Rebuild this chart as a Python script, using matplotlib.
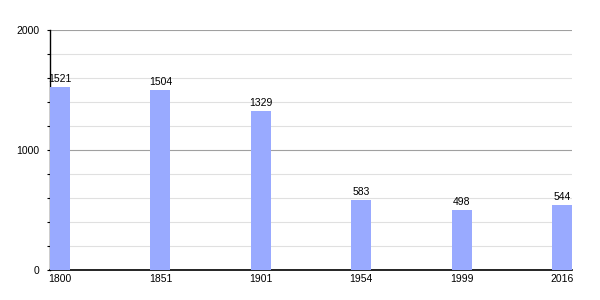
import matplotlib
matplotlib.use("Agg")
import matplotlib.pyplot as plt
from matplotlib.ticker import MultipleLocator

years = ["1800", "1851", "1901", "1954", "1999", "2016"]
population = [1521, 1504, 1329, 583, 498, 544]

plt.rcParams['font.family'] = ['Liberation Sans', 'DejaVu Sans']
fig = plt.figure(figsize=(6, 3), dpi=100)
ax = fig.add_axes([50/600, 0.1, 522/600, 0.8])
x = list(range(len(years)))
ax.bar(x, population, width=0.2, color='#99aaff', zorder=3)
for xi, v in zip(x, population):
    ax.text(xi, v + 25, str(v), ha='center', va='bottom', fontsize=7.5, zorder=4)
ax.set_xlim(-0.1, 5.1)
ax.set_ylim(0, 2000)
ax.yaxis.set_major_locator(MultipleLocator(1000))
ax.yaxis.set_minor_locator(MultipleLocator(200))
ax.grid(axis='y', which='minor', color='#e0e0e0', linewidth=0.8, zorder=0)
ax.grid(axis='y', which='major', color='#a0a0a0', linewidth=0.8, zorder=1)
ax.set_xticks(x)
ax.set_xticklabels(years)
ax.tick_params(axis='x', length=0, labelsize=7.5, pad=3)
ax.tick_params(axis='y', which='major', length=2.5, width=0.8, labelsize=7.5, pad=5)
ax.tick_params(axis='y', which='minor', length=2.5, width=0.8)
for s in ['top', 'right']:
    ax.spines[s].set_visible(False)
ax.spines['left'].set_linewidth(1)
ax.spines['bottom'].set_linewidth(1.2)
fig.savefig('out.png', dpi=100)
